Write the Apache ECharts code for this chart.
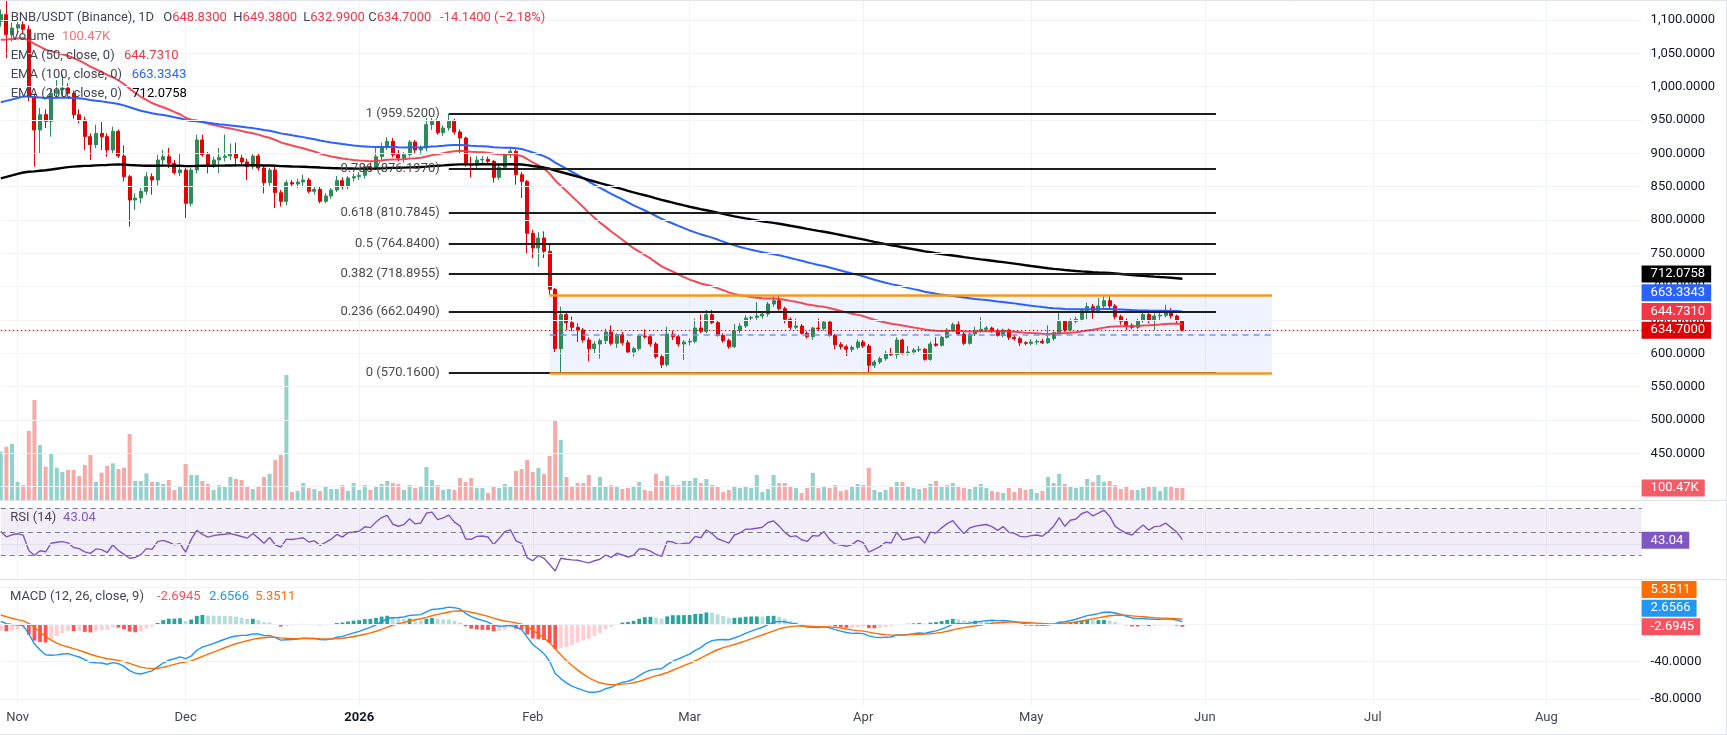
<!DOCTYPE html>
<html>
<head>
<meta charset="utf-8">
<title>BNB/USDT 1D</title>
<script src="https://cdn.jsdelivr.net/npm/echarts@6/dist/echarts.min.js"></script>
<style>
  html, body { margin: 0; padding: 0; background: #fff; }
  #chart { width: 1727px; height: 735px; }
</style>
</head>
<body>
<div id="chart"></div>
<script>
// daily candles Oct 29 2025 .. May 28 2026, [open, high, low, close]
const ohlc = [
  [1098,1116,1090,1108],[1108,1130,1043,1078],[1078,1096,1068,1088],
  // Nov
  [1088,1097,1082,1093],[1093,1098,1080,1086],[1086,1092,978,985],[985,990,880,935],[935,968,900,958],[958,966,938,948],
  [948,996,925,990],[990,1010,982,995],[995,1018,985,998],[998,1005,985,990],[990,994,952,958],[958,966,945,950],
  [950,955,905,925],[925,930,890,913],[913,943,908,930],[930,947,905,925],[925,930,895,905],[905,940,900,933],
  [933,936,893,896],[896,912,858,865],[865,868,790,830],[830,840,815,833],[833,848,825,843],[843,872,838,865],
  [865,870,838,860],[860,898,852,890],[890,905,882,895],[895,908,878,885],[885,890,868,871],[871,900,866,875],
  // Dec
  [875,878,803,825],[825,878,820,875],[875,928,870,920],[920,928,895,898],[898,902,870,883],[883,895,878,890],
  [890,908,870,894],[894,928,888,896],[896,915,890,899],[899,916,880,893],[893,898,884,887],[887,892,860,880],
  [880,900,876,896],[896,900,874,878],[878,882,840,856],[856,878,850,875],[875,880,818,841],[841,845,820,828],
  [828,860,822,856],[856,860,850,854],[854,862,848,857],[857,868,850,860],[860,863,840,843],[843,850,838,846],
  [846,850,825,828],[828,840,825,836],[836,848,832,845],[845,866,842,859],[859,864,846,850],[850,866,846,863],
  [863,870,858,865],
  // Jan
  [865,872,860,867],[867,884,862,880],[880,886,874,878],[878,908,875,895],[895,916,890,910],[910,924,905,918],
  [918,923,894,898],[898,905,888,893],[893,902,886,898],[898,920,895,917],[917,920,900,905],[905,912,898,908],
  [908,953,903,943],[943,953,935,948],[948,950,928,931],[931,942,926,938],[938,959.52,934,948],[948,952,928,932],
  [932,936,900,923],[923,925,880,883],[883,895,864,882],[882,896,878,890],[890,896,885,891],[891,895,884,888],
  [888,890,856,864],[864,882,860,879],[879,900,875,898],[898,908,893,903],[903,906,853,868],[868,872,833,858],
  [858,860,750,780],
  // Feb
  [780,785,743,758],[758,782,730,773],[773,783,743,753],[753,763,688,696],[696,698,602,607],[607,670,570.16,658],
  [658,662,635,646],[646,655,633,639],[639,645,617,635],[635,638,616,620],[620,624,588,607],[607,618,600,614],
  [614,622,592,619],[619,637,614,632],[632,642,612,615],[615,630,608,628],[628,632,612,616],[616,620,600,602],
  [602,610,595,607],[607,628,604,626],[626,636,622,625],[625,628,610,614],[614,617,592,595],[595,598,578,583],
  [583,640,580,629],[629,634,620,625],[625,628,610,614],[614,620,590,617],
  // Mar
  [617,622,612,618],[618,652,615,638],[638,658,630,633],[633,665,630,658],[658,665,644,646],[646,650,625,627],
  [627,630,616,619],[619,622,607,610],[610,644,608,634],[634,645,630,641],[641,657,638,653],[653,656,648,654],
  [654,677,650,656],[656,662,652,659],[659,677,655,674],[674,686,670,679],[679,686,664,667],[667,670,645,651],
  [651,654,635,639],[639,652,636,641],[641,644,628,630],[630,633,622,625],[625,640,620,638],[638,652,634,637],
  [637,650,634,647],[647,649,625,627],[627,629,606,613],[613,617,606,610],[610,613,596,606],[606,612,602,609],
  [609,621,606,617],
  // Apr
  [617,620,608,611],[611,614,571,582],[582,590,578,587],[587,595,584,592],[592,604,589,600],[600,608,596,598],
  [598,624,592,620],[620,622,598,600],[600,611,597,602],[602,608,598,605],[605,611,602,606],[606,608,589,591],
  [591,618,589,614],[614,624,610,612],[612,626,610,624],[624,638,622,635],[635,646,632,643],[643,648,627,629],
  [629,632,612,615],[615,631,613,629],[629,640,626,634],[634,654,631,636],[636,641,633,638],[638,640,631,634],
  [634,637,625,627],[627,637,624,635],[635,637,620,624],[624,628,619,622],[622,625,611,616],[616,618,612,615],
  // May
  [615,621,612,617],[617,621,613,618],[618,622,614,616],[616,642,614,622],[622,633,619,631],[631,662,628,648],
  [648,650,632,635],[635,652,633,648],[648,655,645,651],[651,666,648,664],[664,676,651,670],[670,674,652,664],
  [664,683,660,671],[671,686,666,679],[679,687,668,671],[671,674,651,655],[655,658,643,648],[648,652,635,642],
  [642,645,636,639],[639,652,636,649],[649,661,646,658],[658,663,645,649],[649,660,635,656],[656,663,650,657],
  [657,673,654,663],[663,668,652,656],[656,658,645,648.83],[648.83,649.38,632.99,634.70]
];

// daily volume, thousands
const volumes = [
  405,446,469,
  153,126,578,837,460,279,391,271,234,251,251,201,293,377,153,229,285,307,259,271,552,159,159,223,151,151,134,167,84,109,
  301,209,209,159,134,84,126,117,193,176,167,109,92,109,193,218,335,377,1046,67,75,142,100,92,75,117,92,92,126,75,142,
  84,126,84,117,134,159,142,134,84,126,100,109,276,167,126,84,92,84,184,151,184,100,100,59,117,100,134,109,243,259,335,
  234,268,218,368,670,502,193,117,142,142,209,117,193,109,126,109,92,100,109,151,84,75,218,159,201,126,126,159,
  159,184,142,176,126,109,67,84,117,100,117,100,209,67,92,209,142,142,117,100,59,100,226,100,117,100,126,75,84,117,134,
  126,268,84,67,84,109,151,151,109,100,92,100,134,159,117,126,142,117,100,92,109,134,100,75,67,59,100,67,100,84,
  92,59,75,193,142,218,134,109,100,117,176,151,209,151,159,126,92,117,84,84,100,117,109,75,109,117,100,100.47
];

const priceTicks = [450, 500, 550, 600, 650, 700, 750, 800, 850, 900, 950, 1000, 1050, 1100];
const priceGridLines = [400, 450, 500, 550, 600, 650, 700, 750, 800, 850, 900, 950, 1000, 1050, 1100];
const macdTicks = [-80, -40];
const macdGridLines = [40, 0, -40, -80];

const emaPeriods = [50, 100, 200];
const emaSeeds = [1069, 974, 860];
const emaColors = ['#f23645', '#2962ff', '#000000'];
const macdSeeds = [1102.8, 1100, 11.7];   // ema12, ema26, signal before the first candle
const rsiSeeds = [12, 12.5];              // average gain, average loss

const fibRatios = ['1', '0.786', '0.618', '0.5', '0.382', '0.236', '0'];
const fibPrices = [959.52, 876.197, 810.7845, 764.84, 718.8955, 662.049, 570.16];
const fibRange = ['2026-01-17', '2026-06-03'];
const boxRange = ['2026-02-04', '2026-06-13'];
const boxPrices = [686.6, 570.16];

const lastOHLC = [648.83, 649.38, 632.99, 634.70];
const lastChange = [-14.14, -2.18];
const emaLast = [644.7310, 663.3343, 712.0758];
const rsiLast = 43.04;
const volLast = '100.47K';
const macdLast = [-2.6945, 2.6566, 5.3511];  // histogram, macd, signal

// categories: one per day up to mid Aug
const dates = [];
for (let i = 0; i < 294; i++) {
  const dt = new Date(2025, 9, 29 + i);
  dates.push(dt.getFullYear() + '-' + String(dt.getMonth() + 1).padStart(2, '0') + '-' + String(dt.getDate()).padStart(2, '0'));
}

const FONT = 'Roboto, "Noto Sans", sans-serif';
const UP = '#2e8b57', DOWN = '#e50000';
const monthNames = ['Jan', 'Feb', 'Mar', 'Apr', 'May', 'Jun', 'Jul', 'Aug', 'Sep', 'Oct', 'Nov', 'Dec'];
const isMonthStart = (i, v) => v.slice(8) === '01';
const monthLabel = v => {
  const m = +v.slice(5, 7);
  return m === 1 ? '{y|' + v.slice(0, 4) + '}' : monthNames[m - 1];
};
const fmt4 = v => v.toLocaleString('en-US', { minimumFractionDigits: 4, maximumFractionDigits: 4 });

// indicators from the closes
const closes = ohlc.map(r => r[3]);
function ema(values, period, seed) {
  const k = 2 / (period + 1);
  let prev = seed;
  return values.map(v => (prev = prev + k * (v - prev)));
}
const emaLines = emaPeriods.map((p, i) => ema(closes, p, emaSeeds[i]));

const ema12 = ema(closes, 12, macdSeeds[0]);
const ema26 = ema(closes, 26, macdSeeds[1]);
const macd = ema12.map((v, i) => v - ema26[i]);
const signal = ema(macd, 9, macdSeeds[2]);
const hist = macd.map((v, i) => v - signal[i]);

let avgGain = rsiSeeds[0], avgLoss = rsiSeeds[1], prevClose = ohlc[0][0];
const rsi = closes.map(c => {
  const ch = c - prevClose;
  prevClose = c;
  avgGain = (avgGain * 13 + Math.max(ch, 0)) / 14;
  avgLoss = (avgLoss * 13 + Math.max(-ch, 0)) / 14;
  return 100 - 100 / (1 + avgGain / avgLoss);
});

const chart = echarts.init(document.getElementById('chart'));

const gridBase = { left: 0.8, width: 1640.8 };
const xAxes = [0, 1, 2].map(g => ({
  type: 'category', gridIndex: g, data: dates, boundaryGap: false,
  axisLine: { show: false }, axisTick: { show: false },
  axisLabel: g === 2 ? {
    interval: isMonthStart, formatter: monthLabel, margin: 6,
    fontSize: 13, fontFamily: FONT, color: '#434651',
    rich: { y: { fontSize: 13, fontFamily: FONT, fontWeight: 'bold', color: '#131722' } }
  } : { show: false },
  splitLine: { show: true, interval: isMonthStart, lineStyle: { color: '#f0f3fa', width: 1 } }
}));

const axisText = { fontSize: 13, fontFamily: FONT, color: '#131722', margin: 9 };

const fibLines = fibPrices.map((p, i) => [
  {
    coord: [fibRange[0], p],
    label: { formatter: fibRatios[i] + ' (' + p.toFixed(4) + ')' }
  },
  { coord: [fibRange[1], p] }
]);

const gray = '#434651';
const legendRows = [17.7, 36.7, 55.3, 74.7, 93.3];
const txt = (x, y, text, fill, extra) => Object.assign({
  type: 'text', x, y, z: 50, silent: true,
  style: { text, fill, font: '13px ' + FONT, verticalAlign: 'middle', align: 'left' }
}, extra || {});
const richTxt = (x, y, text) => ({
  type: 'text', x, y, z: 50, silent: true,
  style: {
    text, verticalAlign: 'middle', align: 'left', font: '13px ' + FONT,
    rich: {
      g: { fill: gray, font: '13px ' + FONT },
      r: { fill: '#f23645', font: '13px ' + FONT }
    }
  }
});
const hline = (y, x1, x2) => ({
  type: 'line', silent: true, z: 40,
  shape: { x1, y1: y, x2, y2: y }, style: { stroke: '#e0e3eb', lineWidth: 1 }
});

const staticGraphic = [
  hline(500.5, 0, 1727), hline(579.5, 0, 1727), hline(734.5, 0, 1727), hline(0.5, 0, 1727),
  { type: 'line', silent: true, z: 40, shape: { x1: 1726.5, y1: 0, x2: 1726.5, y2: 735 }, style: { stroke: '#e0e3eb', lineWidth: 1 } },
  richTxt(10.7, legendRows[0], '{g|BNB/USDT (Binance), 1D}'),
  richTxt(163.3, legendRows[0], '{g|O}{r|' + lastOHLC[0].toFixed(4) + '}'),
  richTxt(233.3, legendRows[0], '{g|H}{r|' + lastOHLC[1].toFixed(4) + '}'),
  richTxt(303.3, legendRows[0], '{g|L}{r|' + lastOHLC[2].toFixed(4) + '}'),
  richTxt(368.3, legendRows[0], '{g|C}{r|' + lastOHLC[3].toFixed(4) + '}'),
  richTxt(440, legendRows[0], '{r|' + lastChange[0].toFixed(4) + ' (\u2212' + Math.abs(lastChange[1]).toFixed(2) + '%)}'),
  txt(10.7, legendRows[1], 'Volume', gray),
  txt(62, legendRows[1], volLast, '#f7707a'),
  txt(10.7, legendRows[2], 'EMA (50, close, 0)', gray),
  txt(124, legendRows[2], emaLast[0].toFixed(4), emaColors[0]),
  txt(10.7, legendRows[3], 'EMA (100, close, 0)', gray),
  txt(131.7, legendRows[3], emaLast[1].toFixed(4), emaColors[1]),
  txt(10.7, legendRows[4], 'EMA (200, close, 0)', gray),
  txt(132.3, legendRows[4], emaLast[2].toFixed(4), emaColors[2]),
  txt(10.3, 517.3, 'RSI (14)', gray),
  txt(63.1, 517.3, rsiLast.toFixed(2), '#7e57c2'),
  txt(10, 597, 'MACD (12, 26, close, 9)', gray),
  txt(157, 597, macdLast[0].toFixed(4), '#f7525f'),
  txt(209, 597, macdLast[1].toFixed(4), '#2196f3'),
  txt(255.3, 597, macdLast[2].toFixed(4), '#ff6d00')
];

const option = {
  animation: false,
  backgroundColor: '#ffffff',
  grid: [
    Object.assign({ top: 0, height: 500 }, gridBase),
    Object.assign({ top: 500, height: 79 }, gridBase),
    Object.assign({ top: 579.5, height: 125.5 }, gridBase)
  ],
  xAxis: xAxes,
  yAxis: [
    { type: 'value', gridIndex: 0, position: 'right', min: 380, max: 1130,
      splitLine: { show: false }, axisLine: { show: false }, axisTick: { show: false },
      axisLabel: Object.assign({ customValues: priceTicks, formatter: fmt4 }, axisText) },
    { type: 'value', gridIndex: 0, min: 0, max: 4185, show: false },
    { type: 'value', gridIndex: 1, min: 10.1, max: 77.3, show: false },
    { type: 'value', gridIndex: 2, position: 'right', min: -86.4, max: 48,
      splitLine: { show: false }, axisLine: { show: false }, axisTick: { show: false },
      axisLabel: Object.assign({ customValues: macdTicks, formatter: fmt4 }, axisText) }
  ],
  graphic: staticGraphic,
  series: [
    // price grid lines
    {
      type: 'line', xAxisIndex: 0, yAxisIndex: 0, data: [], z: 0, silent: true,
      markLine: {
        silent: true, symbol: 'none', label: { show: false },
        lineStyle: { color: '#f0f3fa', width: 1, type: 'solid' },
        data: priceGridLines.map(v => ({ yAxis: v }))
      }
    },
    // volume
    {
      type: 'bar', xAxisIndex: 0, yAxisIndex: 1, z: 1, barWidth: 4, silent: true,
      data: volumes.map((v, i) => ({
        value: v,
        itemStyle: { color: ohlc[i][3] >= ohlc[i][0] ? '#92d2cc' : '#f7a9a7' }
      }))
    },
    // fib retracement and range box
    {
      type: 'line', xAxisIndex: 0, yAxisIndex: 0, data: [], z: 2, silent: true,
      markArea: {
        silent: true,
        itemStyle: { color: 'rgba(41,98,255,0.075)' },
        data: [[{ coord: [boxRange[0], boxPrices[0]] }, { coord: [boxRange[1], boxPrices[1]] }]]
      },
      markLine: {
        silent: true, symbol: 'none',
        lineStyle: { color: '#1e1e1e', width: 2, type: 'solid' },
        label: {
          show: true, position: 'start', distance: 9, color: '#4a4a4a',
          fontSize: 13, fontFamily: FONT, padding: [0, 0, 18, 0]
        },
        data: fibLines.concat([
          [{ coord: [boxRange[0], boxPrices[0]], label: { show: false }, lineStyle: { color: '#f7981d', width: 2.5 } },
           { coord: [boxRange[1], boxPrices[0]] }],
          [{ coord: [boxRange[0], boxPrices[1]], label: { show: false }, lineStyle: { color: '#f7981d', width: 2.5 } },
           { coord: [boxRange[1], boxPrices[1]] }],
          [{ coord: [boxRange[0], (boxPrices[0] + boxPrices[1]) / 2], label: { show: false },
             lineStyle: { color: '#6f95f5', width: 1.5, type: [6, 5] } },
           { coord: [boxRange[1], (boxPrices[0] + boxPrices[1]) / 2] }]
        ])
      }
    },
    // candles
    {
      type: 'candlestick', xAxisIndex: 0, yAxisIndex: 0, z: 3, barWidth: 3.4, silent: true,
      data: ohlc.map(r => [r[0], r[3], r[2], r[1]]),
      itemStyle: { color: UP, color0: DOWN, borderColor: UP, borderColor0: DOWN, borderWidth: 1 },
      markLine: {
        silent: true, symbol: 'none', label: { show: false },
        lineStyle: { color: '#e00000', width: 1, type: [1.5, 2.5] },
        data: [{ yAxis: closes[closes.length - 1] }]
      }
    },
    // EMAs
    ...emaLines.map((line, i) => ({
      type: 'line', xAxisIndex: 0, yAxisIndex: 0, z: 4, data: line, silent: true,
      symbol: 'none', smooth: false,
      lineStyle: { color: emaColors[i], width: i === 2 ? 2.4 : 2, opacity: i === 0 ? 0.9 : 1 }
    })),
    // RSI
    {
      type: 'line', xAxisIndex: 1, yAxisIndex: 2, data: rsi, symbol: 'none', silent: true,
      lineStyle: { color: '#7e57c2', width: 1.4 },
      markArea: {
        silent: true, itemStyle: { color: 'rgba(126,87,194,0.1)' },
        data: [[{ yAxis: 70 }, { yAxis: 30 }]]
      },
      markLine: {
        silent: true, symbol: 'none', label: { show: false },
        lineStyle: { color: '#787b86', width: 1, type: [5, 4] },
        data: [
          { yAxis: 70 }, { yAxis: 50 }, { yAxis: 30 },
          { yAxis: 40, lineStyle: { color: '#e3e0ee', type: 'solid' } }
        ]
      }
    },
    // MACD
    {
      type: 'line', xAxisIndex: 2, yAxisIndex: 3, data: [], z: 0, silent: true,
      markLine: {
        silent: true, symbol: 'none', label: { show: false },
        lineStyle: { color: '#f0f3fa', width: 1, type: 'solid' },
        data: macdGridLines.map(v => ({ yAxis: v }))
      }
    },
    {
      type: 'bar', xAxisIndex: 2, yAxisIndex: 3, barWidth: 3.8, silent: true, z: 2,
      data: hist.map((h, i) => {
        const prev = i ? hist[i - 1] : h;
        let c;
        if (h >= 0) c = h >= prev ? '#26a69a' : '#b2dfdb';
        else c = h < prev ? '#ff5252' : '#ffcdd2';
        return { value: h, itemStyle: { color: c } };
      })
    },
    {
      type: 'line', xAxisIndex: 2, yAxisIndex: 3, data: macd, symbol: 'none', silent: true, z: 3,
      lineStyle: { color: '#2196f3', width: 1.4 }
    },
    {
      type: 'line', xAxisIndex: 2, yAxisIndex: 3, data: signal, symbol: 'none', silent: true, z: 3,
      lineStyle: { color: '#ff6d00', width: 1.4 }
    }
  ]
};

chart.setOption(option);

// value tags on the right scale, stacked so they do not overlap
const TAG_H = 18.7;
function stackTags(tags, yAxisIndex) {
  const items = tags.map(t => Object.assign({}, t, { y: chart.convertToPixel({ yAxisIndex }, t.value) }));
  items.sort((a, b) => b.y - a.y);
  for (let i = 1; i < items.length; i++) items[i].y = Math.min(items[i].y, items[i - 1].y - TAG_H);
  return items.map(t => ({
    type: 'text', x: 1641.6, y: t.y, z: 100, silent: true,
    style: {
      text: t.text, fill: '#ffffff', font: '13px ' + FONT,
      backgroundColor: t.bg, padding: [2, 6, 2, 9],
      verticalAlign: 'middle', align: 'left'
    }
  }));
}

const tags = [].concat(
  stackTags([
    { value: closes[closes.length - 1], text: closes[closes.length - 1].toFixed(4), bg: '#e00000' },
    { value: emaLast[0], text: emaLast[0].toFixed(4), bg: '#f23645' },
    { value: emaLast[1], text: emaLast[1].toFixed(4), bg: '#2962ff' },
    { value: emaLast[2], text: emaLast[2].toFixed(4), bg: '#000000' }
  ], 0),
  stackTags([{ value: volumes[volumes.length - 1], text: volLast, bg: '#f45c68' }], 1),
  stackTags([{ value: rsiLast, text: rsiLast.toFixed(2), bg: '#7e57c2' }], 2),
  stackTags([
    { value: macdLast[0], text: macdLast[0].toFixed(4), bg: '#f7525f' },
    { value: macdLast[1], text: macdLast[1].toFixed(4), bg: '#2196f3' },
    { value: macdLast[2], text: macdLast[2].toFixed(4), bg: '#ff6d00' }
  ], 3)
);

chart.setOption({ graphic: staticGraphic.concat(tags) });
</script>
</body>
</html>
